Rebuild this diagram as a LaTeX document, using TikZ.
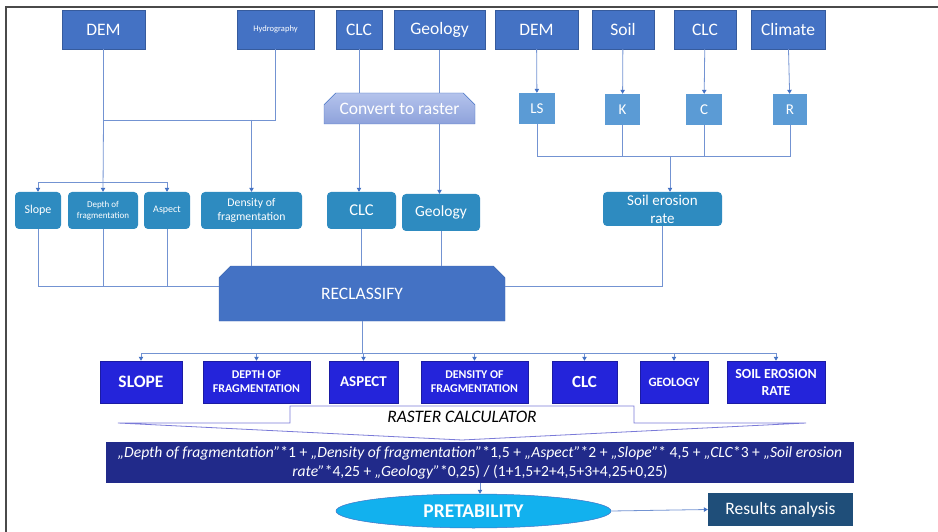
\documentclass[tikz,border=0pt]{standalone}
\usepackage{fontspec}
\setmainfont{Carlito}
\usepackage{tikz}
\usetikzlibrary{arrows.meta,shapes.geometric,shapes.misc}
\definecolor{srcblue}{HTML}{4472C4}
\definecolor{factblue}{HTML}{5B9BD5}
\definecolor{midblue}{HTML}{2E8BC0}
\definecolor{outblue}{HTML}{2424DA}
\definecolor{navy}{HTML}{212A8A}
\definecolor{cyanfill}{HTML}{12B1EE}
\definecolor{resblue}{HTML}{1F4E79}
\definecolor{linkblue}{HTML}{7393D2}
\definecolor{calcline}{HTML}{7A7AD8}
\definecolor{convtop}{HTML}{B4C3EC}
\definecolor{convbot}{HTML}{8EA2DB}
\definecolor{frame}{HTML}{4A4A4A}
\tikzset{
  src/.style={draw=srcblue!80!black,line width=0.5pt,fill=srcblue,text=white,align=center,inner sep=1pt,minimum height=39pt},
  fact/.style={fill=factblue,text=white,inner sep=1pt,minimum height=31pt,font=\fontsize{15}{17}\selectfont},
  mid/.style={fill=midblue,rounded corners=4pt,text=white,align=center,inner sep=1pt,minimum height=37pt},
  outbox/.style={fill=outblue,draw=outblue!75!black,line width=0.5pt,text=white,align=center,inner sep=1pt,minimum height=42pt},
  snip/.style={chamfered rectangle,chamfered rectangle corners={north west,north east},chamfered rectangle xsep=6pt,chamfered rectangle ysep=6pt,inner sep=0pt,text=white,align=center},
  link/.style={draw=linkblue,line width=0.8pt},
  arr/.style={link,-{Triangle[length=4pt,width=4.5pt,color=srcblue]}}}

\begin{document}
\begin{tikzpicture}[x=1pt,y=-1pt]
\useasboundingbox (0,0) rectangle (938,532);
\draw[frame,line width=1.5pt] (6,532) -- (6,7) -- (938,7);
% input layers
\node[src,minimum width=83pt,font=\fontsize{17.5}{20}\selectfont] (dem1) at (103.5,29.5) {DEM};
\node[src,minimum width=77pt,font=\fontsize{8.5}{10}\selectfont] (hydro) at (275.5,29.5) {Hydrography};
\node[src,minimum width=46pt,font=\fontsize{17.5}{20}\selectfont] (clcA) at (359,29.5) {CLC};
\node[src,minimum width=91pt,font=\fontsize{17.5}{20}\selectfont] (geoA) at (439.5,30) {Geology};
\node[src,minimum width=83pt,font=\fontsize{17.5}{20}\selectfont] (dem2) at (536.5,29.5) {DEM};
\node[src,minimum width=62pt,font=\fontsize{17.5}{20}\selectfont] (soil) at (623,29.5) {Soil};
\node[src,minimum width=62pt,font=\fontsize{17.5}{20}\selectfont] (clcB) at (705,29.5) {CLC};
\node[src,minimum width=74pt,font=\fontsize{17.5}{20}\selectfont] (clim) at (788,29.5) {Climate};
\node[snip,draw=srcblue,top color=convtop,bottom color=convbot,minimum width=151pt,minimum height=31pt,font=\fontsize{17.5}{20}\selectfont] (conv) at (399.5,108.5) {Convert to raster};
% USLE factors
\node[fact,minimum width=36pt] (ls) at (537,108.5) {LS};
\node[fact,minimum width=35pt] (k) at (622.5,109.5) {K};
\node[fact,minimum width=36pt] (c) at (704,109.5) {C};
\node[fact,minimum width=34pt] (r) at (790,109.5) {R};
% derived layers
\node[mid,minimum width=46pt,font=\fontsize{12}{14}\selectfont] (slope) at (38,210.5) {Slope};
\node[mid,minimum width=70pt,font=\fontsize{9}{11}\selectfont] (depth) at (103,210.5) {Depth of\\fragmentation};
\node[mid,minimum width=46pt,font=\fontsize{10}{12}\selectfont] (aspect) at (167,210.5) {Aspect};
\node[mid,minimum width=101pt,font=\fontsize{11.7}{14}\selectfont] (dens) at (251.5,210.5) {Density of\\fragmentation};
\node[mid,minimum width=69pt,font=\fontsize{16.5}{19}\selectfont] (clcM) at (361.5,210.5) {CLC};
\node[mid,minimum width=78pt,font=\fontsize{15.5}{18}\selectfont] (geoM) at (441,212.5) {Geology};
\node[mid,minimum width=119pt,minimum height=34pt,font=\fontsize{15}{18}\selectfont] (ser) at (662.5,209) {Soil erosion\\rate};
\node[snip,fill=srcblue,draw=srcblue!90!black,minimum width=286pt,minimum height=55pt,font=\fontsize{17.5}{20}\selectfont] (recl) at (362,293.5) {RECLASSIFY};
% reclassified layers
\node[outbox,minimum width=82pt,font=\bfseries\fontsize{17.5}{20}\selectfont] (bslope) at (141,382) {SLOPE};
\node[outbox,minimum width=107pt,font=\bfseries\fontsize{11.9}{14}\selectfont] (bdepth) at (256.5,382) {DEPTH OF\\FRAGMENTATION};
\node[outbox,minimum width=69pt,font=\bfseries\fontsize{15}{17}\selectfont] (basp) at (363.5,382) {ASPECT};
\node[outbox,minimum width=107pt,font=\bfseries\fontsize{11.9}{14}\selectfont] (bdens) at (474.5,382) {DENSITY OF\\FRAGMENTATION};
\node[outbox,minimum width=65pt,font=\bfseries\fontsize{17}{19}\selectfont] (bclc) at (584.5,382) {CLC};
\node[outbox,minimum width=68pt,font=\bfseries\fontsize{12.7}{15}\selectfont] (bgeo) at (674,382) {GEOLOGY};
\node[outbox,minimum width=98pt,font=\bfseries\fontsize{13.9}{17}\selectfont] (bser) at (776,382) {SOIL EROSION\\RATE};
% raster calculator
\draw[calcline,line width=0.8pt,fill=white] (118,423) -- (290,423) -- (290,406) -- (634,406) -- (634,423) -- (806,423) -- (462,440) -- cycle;
\node[font=\itshape\fontsize{17.5}{20}\selectfont,inner sep=0pt] (calc) at (462,417) {RASTER CALCULATOR};
\node[fill=navy,text=white,align=center,inner sep=1pt,minimum width=748pt,minimum height=41pt,font=\fontsize{15.6}{19}\selectfont] (form) at (480,462.5)
  {\textit{„Depth of fragmentation”}*1 + \textit{„Density of fragmentation”}*1,5 + \textit{„Aspect”}*2 + \textit{„Slope”}* 4,5 + \textit{„CLC}*3 + \textit{„Soil erosion}\\\textit{rate”}*4,25 + \textit{„Geology”}*0,25) / (1+1,5+2+4,5+3+4,25+0,25)};
\node[ellipse,fill=cyanfill,draw=srcblue,line width=0.5pt,inner sep=0pt,minimum width=275pt,minimum height=34pt,text=white,font=\bfseries\fontsize{19.5}{22}\selectfont] (pret) at (473.5,511) {PRETABILITY};
\node[fill=resblue,text=white,inner sep=1pt,minimum width=145pt,minimum height=33pt,font=\fontsize{17.5}{20}\selectfont] (res) at (780.5,509.5) {Results analysis};
% connectors, top left
\coordinate (j1) at (103.5,120);
\coordinate (j2) at (103.5,182);
\draw[link] (dem1.south) -- (j1) -| (hydro.south);
\draw[arr] (j1) -- (depth.north);
\draw[arr] (j2) -| (slope.north);
\draw[arr] (j2) -| (aspect.north);
\draw[arr] (j1 -| dens.north) -- (dens.north);
\draw[link] (clcA.south) -- (clcA.south |- conv.north);
\draw[arr] (clcA.south |- conv.south) -- (clcA.south |- clcM.north);
\draw[link] (geoA.south) -- (geoA.south |- conv.north);
\draw[arr] (geoA.south |- conv.south) -- (geoA.south |- geoM.north);
% connectors, erosion
\draw[arr] (dem2) -- (ls);
\draw[arr] (soil) -- (k);
\draw[arr] (clcB) -- (c);
\draw[arr] (clim) -- (r);
\coordinate (j3) at (670,156);
\draw[link] (ls.south) -- (ls.south |- j3) -| (r.south);
\draw[link] (k.south) -- (k.south |- j3);
\draw[link] (c.south) -- (c.south |- j3);
\draw[arr] (j3) -- (j3 |- ser.north);
% into reclassify
\coordinate (r1) at (219,286);
\coordinate (r2) at (505,286);
\draw[link] (slope.south) |- (r1);
\draw[link] (depth.south) -- (depth.south |- r1);
\draw[link] (aspect.south) -- (aspect.south |- r1);
\draw[link] (dens.south) -- (dens.south |- recl.north);
\draw[link] (clcM.south) -- (clcM.south |- recl.north);
\draw[link] (geoM.south) -- (geoM.south |- recl.north);
\draw[link] (ser.south) |- (r2);
% out of reclassify
\coordinate (j5) at (362,353);
\draw[link] (recl.south) -- (j5);
\draw[link] (bslope.north |- j5) -- (bser.north |- j5);
\foreach \n in {bslope,bdepth,basp,bdens,bclc,bgeo,bser}
  \draw[arr] (\n.north |- j5) -- (\n.north);
\draw[arr] (form.south) -- (form.south |- pret.north);
\draw[arr] (pret.east) -- (res.west);
\end{tikzpicture}
\end{document}
